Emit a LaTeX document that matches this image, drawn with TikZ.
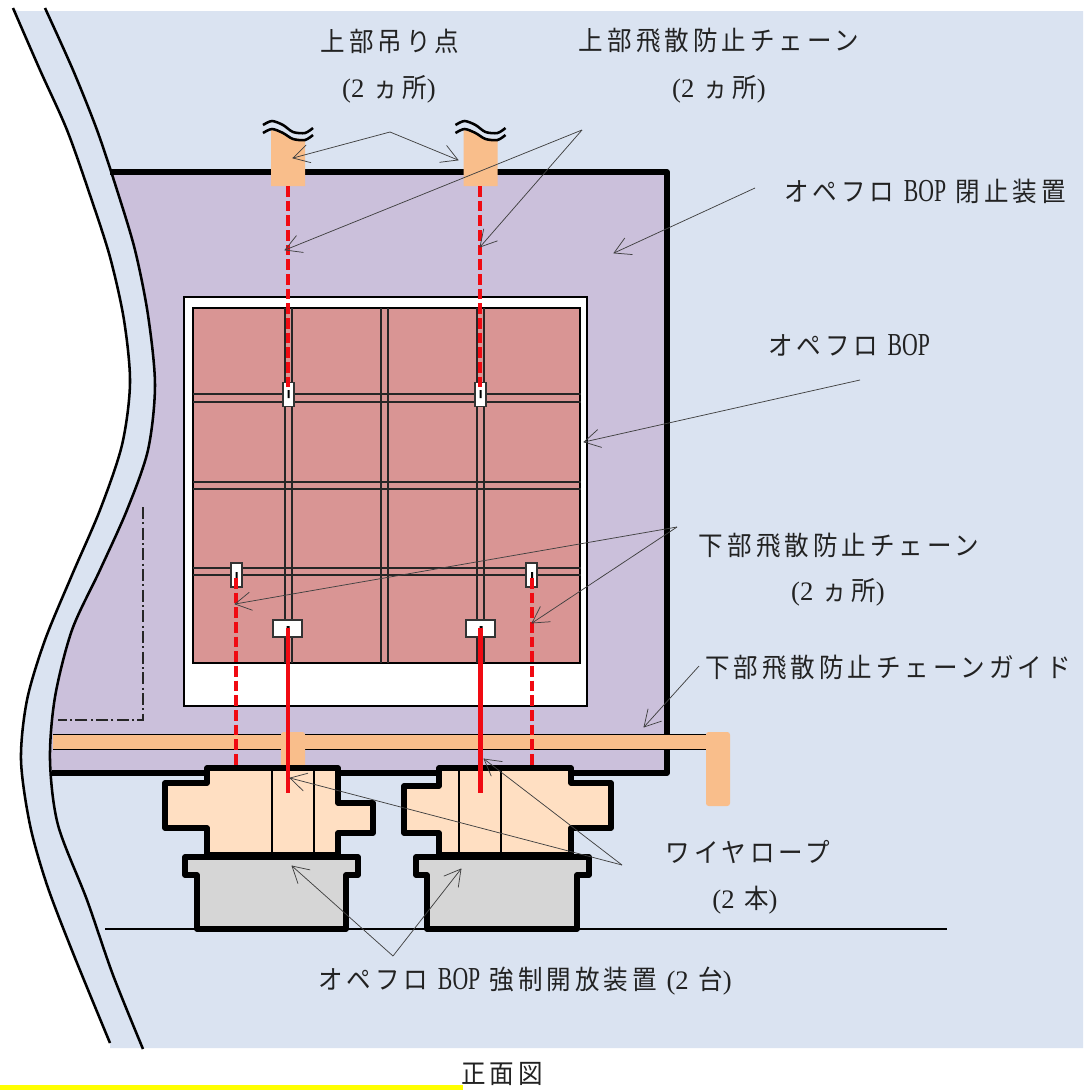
\documentclass[tikz,border=0pt]{standalone}
\usepackage{fontspec}
\usetikzlibrary{arrows.meta}
\setmainfont{Liberation Serif}
\newfontfamily\cjk[LetterSpace=15,FakeStretch=0.92]{Noto Sans CJK JP}
\newfontfamily\latf{Liberation Serif}
\newfontfamily\bopf[FakeStretch=0.68]{Liberation Serif}
\newcommand{\lat}[1]{{\latf\fontsize{20}{24}\selectfont #1}}
\newcommand{\bop}{{\bopf\fontsize{24}{24}\selectfont BOP}}
\definecolor{bgblue}{HTML}{DAE3F1}
\definecolor{purp}{HTML}{CBC0DB}
\definecolor{pinkp}{HTML}{D99594}
\definecolor{peach}{HTML}{FFDFC2}
\definecolor{orangeb}{HTML}{F9BE8B}
\definecolor{grayb}{HTML}{D6D6D6}
\definecolor{redl}{HTML}{F00A12}
\definecolor{txt}{HTML}{222222}
\definecolor{hiyel}{HTML}{FFFF00}
\newcommand{\innerpts}{(45,8) (73,70) (97,130) (117,190) (135,250) (148,315) (155,385) (148,450) (127,510) (100,570) (72,630) (55,697) (50,760) (58,825) (87,900) (113,975) (143,1049)}
\newcommand{\outerpts}{(13,8) (40,70) (67,130) (90,195) (110,257) (124,320) (130,383) (122,445) (100,510) (72,575) (45,640) (27,700) (21,760) (30,825) (47,885) (73,953) (110,1043)}
\pgfdeclarearrow{name=OpenV,
  setup code={\pgfarrowssettipend{0pt}\pgfarrowssetlineend{0pt}},
  drawing code={\pgfsetdash{}{0pt}\pgfsetroundcap\pgfsetlinewidth{0.55pt}%
    \pgfpathmoveto{\pgfpoint{-12pt}{6.8pt}}\pgfpathlineto{\pgfpointorigin}\pgfpathlineto{\pgfpoint{-12pt}{-6.8pt}}\pgfusepathqstroke}}
\tikzset{
  px/.style={x=0.75pt,y=-0.75pt},
  lab/.style={font=\cjk\fontsize{20}{24}\selectfont,text=txt,inner sep=0pt,anchor=center},
  wall/.style={line width=1.9pt,black},
  thick outline/.style={line width=4.2pt,black,line join=round},
  thin grid/.style={line width=1.1pt,black!85},
  callout/.style={line width=0.55pt,draw=black!75,-{OpenV}},
  chaindash/.style={line width=3.5pt,redl,dash pattern=on 8pt off 3pt},
  wire/.style={line width=3.6pt,redl},
  clip box/.style={draw=black!80,line width=0.9pt,fill=white},
}
\begin{document}
\begin{tikzpicture}[px]
\useasboundingbox (0,0) rectangle (1083,1090);
% background and wall
\fill[bgblue] plot[smooth] coordinates {\outerpts} -- (110,1048) -- (1083,1048) -- (1083,11) -- (18,11) -- cycle;
\begin{scope}
  \clip (0,172) rectangle (667,774);
  \fill[purp] plot[smooth] coordinates {\innerpts} -- (1083,1049) -- (1083,9) -- cycle;
\end{scope}
\draw[wall] plot[smooth] coordinates {\outerpts};
\draw[wall] plot[smooth] coordinates {\innerpts};
% closing device outline
\draw[thick outline,line cap=butt] (110,172) -- (667,172) -- (667,773) -- (52,773);
\draw[line width=0.9pt,black!85,dash pattern=on 9pt off 2.5pt on 1.5pt off 2.5pt] (143,507) -- (143,720) -- (58,720);
% BOP
\node[draw=black,line width=1.2pt,fill=white,minimum width=302.25pt,minimum height=306.75pt,inner sep=0pt] (whitebox) at (385.5,501.5) {};
\node[draw=black,line width=0.9pt,fill=pinkp,minimum width=290.25pt,minimum height=266.25pt,inner sep=0pt] (panel) at (386.5,485.5) {};
\foreach \x in {285,292,381,388,477,484} \draw[thin grid] (\x,308) -- (\x,663);
\foreach \y in {394,402,482,489,568,575} \draw[thin grid] (193,\y) -- (581,\y);
% rail
\fill[orangeb] (53,735) rectangle (706,749);
\draw[line width=1pt,black] (53,734.5) -- (706,734.5) (53,749.5) -- (706,749.5);
\fill[orangeb,rounded corners=2pt] (281,732) rectangle (305,770);
\fill[orangeb,rounded corners=2pt] (706,732) rectangle (730,806);
% upper hanging points
\foreach \d in {0,192.5}{
  \begin{scope}[xshift=\d*0.75pt]
    \fill[orangeb] plot[smooth] coordinates {(271,130) (283,133) (293,138) (305,139)} -- (305,186) -- (271,186) -- cycle;
    \draw[line width=1.9pt,black] plot[smooth] coordinates {(263,125) (272,121) (283,125) (293,132) (305,133) (313,128)};
    \draw[line width=1.9pt,black] plot[smooth] coordinates {(263,133) (272,129) (283,133) (293,139) (305,140) (313,135)};
  \end{scope}
}
% devices
\draw[thick outline,fill=peach] (207,768) -- (338,768) -- (338,803) -- (373,803) -- (373,833) -- (338,833) -- (338,855) -- (207,855) -- (207,828) -- (165,828) -- (165,783) -- (207,783) -- cycle;
\draw[line width=1.7pt] (272,770) -- (272,855) (314,770) -- (314,855);
\draw[thick outline,fill=peach] (439,768) -- (571,768) -- (571,783) -- (611,783) -- (611,828) -- (571,828) -- (571,855) -- (439,855) -- (439,833) -- (404,833) -- (404,786) -- (439,786) -- cycle;
\draw[line width=1.7pt] (459,770) -- (459,855) (501,770) -- (501,855);
\draw[line width=1.2pt,black] (105,929) -- (947,929);
\draw[thick outline,fill=grayb] (185,857) -- (358,857) -- (358,875) -- (346,875) -- (346,929) -- (197,929) -- (197,875) -- (185,875) -- cycle;
\draw[thick outline,fill=grayb] (416,857) -- (589,857) -- (589,875) -- (577,875) -- (577,929) -- (427,929) -- (427,875) -- (416,875) -- cycle;
% clips
\foreach \n/\x/\y/\a/\b in {ca/288.5/394.5/11/24,cb/480.5/394.5/11/24,cc/236.5/575/11/24,cd/531.5/575/11/24,ce/287.5/628.5/29/17,cf/480.5/628.5/29/17}{
  \node[clip box,minimum width=\a*0.75pt,minimum height=\b*0.75pt,inner sep=0pt] (\n) at (\x,\y) {};
}
\fill[black] (287.5,390) rectangle (289.5,398) (479.5,390) rectangle (481.5,398) (235.5,572) rectangle (237.5,578) (531,572) rectangle (533,578) (286.5,626) rectangle (289.5,629) (479.5,626) rectangle (482.5,629);
% chains and wires
\coordinate (ha) at (288,186); \coordinate (hb) at (480,186);
\coordinate (ga) at (236,767); \coordinate (gb) at (532,767);
\coordinate (wa) at (288,793); \coordinate (wb) at (480.5,793);
\coordinate (ta) at (288,390); \coordinate (tb) at (480,390);
\coordinate (la) at (236,578); \coordinate (lb) at (532,578);
\coordinate (sa) at (288,628); \coordinate (sb) at (480.5,628);
\draw[chaindash] (ha) -- (ta);
\draw[chaindash] (hb) -- (tb);
\draw[chaindash] (la) -- (ga);
\draw[chaindash] (lb) -- (gb);
\draw[wire] (sa) -- (wa);
\draw[wire] (sb) -- (wb);
% labels
\node[lab] (t1) at (390,41) {上部吊り点};
\node[lab] (t1b) at (389,89) {\lat{(2} ヵ所\lat{)}};
\node[lab] (t2) at (719,40) {上部飛散防止チェーン};
\node[lab] (t2b) at (719,89) {\lat{(2} ヵ所\lat{)}};
\node[lab] (t3) at (925,191) {オペフロ \bop{} 閉止装置};
\node[lab] (t4) at (849,345) {オペフロ \bop};
\node[lab] (t5) at (839,545) {下部飛散防止チェーン};
\node[lab] (t5b) at (838,592) {\lat{(2} ヵ所\lat{)}};
\node[lab] (t6) at (888,667) {下部飛散防止チェーンガイド};
\node[lab] (t7) at (748,852) {ワイヤロープ};
\node[lab] (t7b) at (745,900) {\lat{(2} 本\lat{)}};
\node[lab] (t8) at (525,981) {オペフロ \bop{} 強制開放装置 \lat{(2} 台\lat{)}};
\node[lab] (t9) at (502,1074) {正面図};
% callouts
\coordinate (a1) at (390,132); \coordinate (a1l) at (293,158); \coordinate (a1r) at (458,160);
\draw[callout] (a1) -- (a1l); \draw[callout] (a1) -- (a1r);
\coordinate (a2) at (582,130); \coordinate (a2l) at (285,250); \coordinate (a2r) at (480,247);
\draw[callout] (a2) -- (a2l); \draw[callout] (a2) -- (a2r);
\coordinate (a3) at (755,188); \coordinate (a3e) at (614,253);
\draw[callout] (a3) -- (a3e);
\coordinate (a4) at (860,380); \coordinate (a4e) at (584,442);
\draw[callout] (a4) -- (a4e);
\coordinate (a5) at (677,527); \coordinate (a5l) at (235,604); \coordinate (a5r) at (532,623);
\draw[callout] (a5) -- (a5l); \draw[callout] (a5) -- (a5r);
\coordinate (a6) at (699,666); \coordinate (a6e) at (644,727);
\draw[callout] (a6) -- (a6e);
\coordinate (a7) at (622,865); \coordinate (a7l) at (290,778); \coordinate (a7r) at (484,759);
\draw[callout] (a7) -- (a7l); \draw[callout] (a7) -- (a7r);
\coordinate (a8) at (393,956); \coordinate (a8l) at (292,866); \coordinate (a8r) at (461,869);
\draw[callout] (a8) -- (a8l); \draw[callout] (a8) -- (a8r);
% yellow bar
\fill[hiyel] (0,1085) rectangle (463,1090);
\end{tikzpicture}
\end{document}
